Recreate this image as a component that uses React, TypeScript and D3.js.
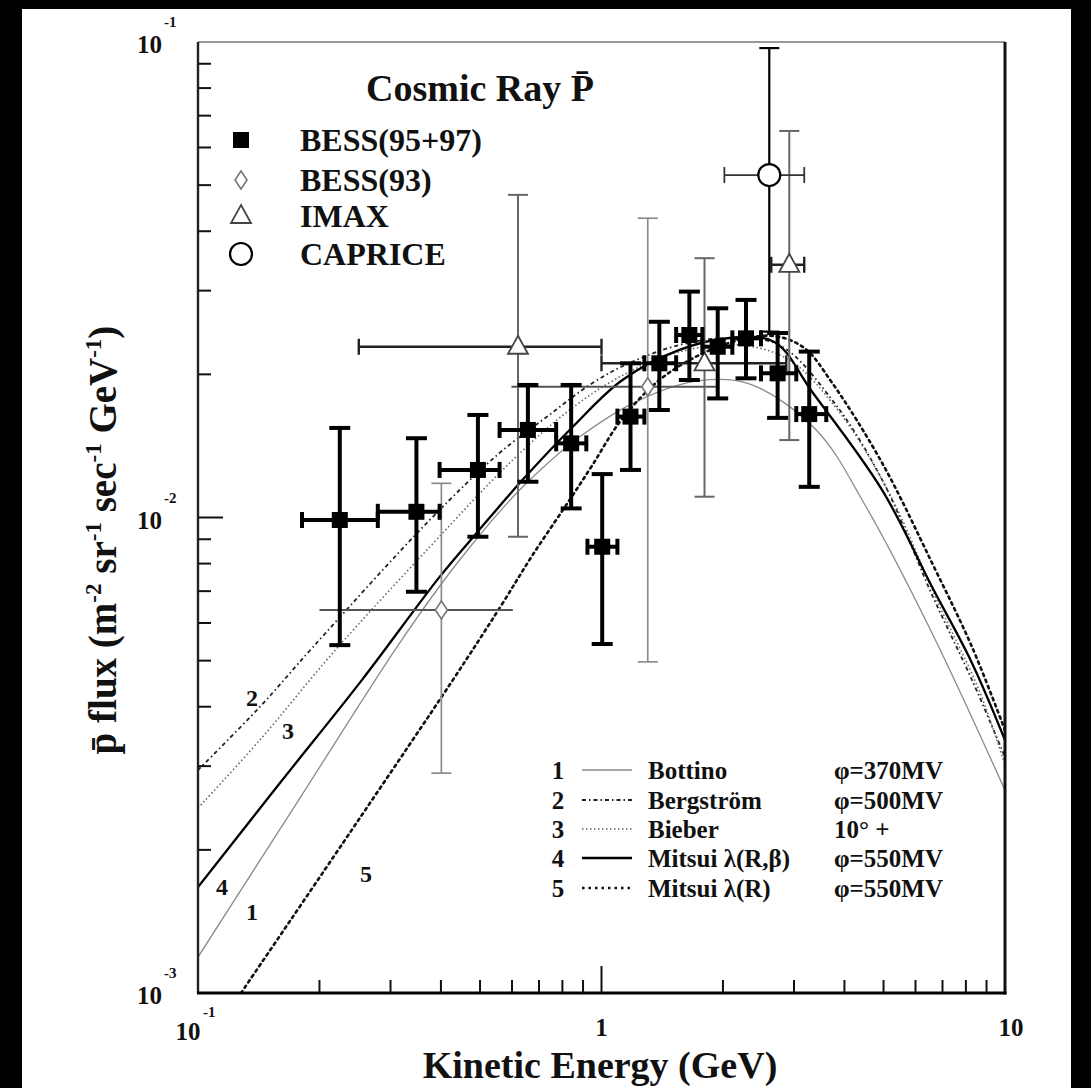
import React from "react";
import * as d3 from "d3";

const W = 1091;
const H = 1088;
const X0 = 198, X1 = 1005, Y0 = 993, Y1 = 42;
const FONT = "'Liberation Serif', 'Times New Roman', serif";

// ---- data: BESS(95+97)
const bessE = [0.2246, 0.3478, 0.494, 0.657, 0.841, 1.004, 1.18, 1.391, 1.651, 1.941, 2.281, 2.732, 3.272];
const bessFlux = [0.00988, 0.01028, 0.01259, 0.01528, 0.01432, 0.00868, 0.0163, 0.0211, 0.0242, 0.02286, 0.02381, 0.0201, 0.0165];
const bessHi = [0.01543, 0.01468, 0.01643, 0.019, 0.019, 0.01234, 0.0211, 0.0258, 0.02986, 0.02754, 0.02868, 0.02443, 0.02233];
const bessLo = [0.00539, 0.00698, 0.00911, 0.01189, 0.01045, 0.00542, 0.01259, 0.01683, 0.01946, 0.0178, 0.01962, 0.0162, 0.0116];
const bessELo = [0.181, 0.279, 0.397, 0.559, 0.772, 0.923, 1.095, 1.277, 1.531, 1.778, 2.11, 2.485, 3.039];
const bessEHi = [0.279, 0.397, 0.559, 0.772, 0.917, 1.095, 1.277, 1.531, 1.778, 2.11, 2.485, 3.039, 3.606];

// ---- BESS(93)
const b93E = [0.401, 1.302];
const b93Flux = [0.00639, 0.01884];
const b93Hi = [0.0118, 0.0426];
const b93Lo = [0.0029, 0.00497];
const b93ELo = [0.2, 0.598];
const b93EHi = [0.603, 1.94];

// ---- IMAX
const imaxE = [0.621, 1.8, 2.92];
const imaxFlux = [0.02286, 0.0211, 0.034];
const imaxHi = [0.0477, 0.0351, 0.065];
const imaxLo = [0.00911, 0.01106, 0.01455];
const imaxELo = [0.2503, 1.0, 2.635];
const imaxEHi = [1.0, 2.87, 3.18];

// ---- CAPRICE
const capE = [2.605];
const capFlux = [0.0525];
const capHi = [0.0971];
const capLo = [0.0246];
const capELo = [2.016];
const capEHi = [3.18];

// ---- model curves
const c1E = [0.1, 0.1789, 0.3199, 0.445, 0.6266, 0.882, 1.242, 1.748, 2.325, 3.405, 4.528, 6.597, 10];
const c1F = [0.00119, 0.00257, 0.00553, 0.00814, 0.01142, 0.01477, 0.01766, 0.0194, 0.0191, 0.01528, 0.01052, 0.00571, 0.00267];
const c2E = [0.1, 0.1423, 0.1927, 0.3752, 0.559, 0.731, 0.95, 1.173, 1.56, 2.074, 2.758, 3.731, 4.961, 6.597, 8.286, 10];
const c2F = [0.002944, 0.003996, 0.00534, 0.00988, 0.01367, 0.01627, 0.01918, 0.02113, 0.02306, 0.02385, 0.02306, 0.01766, 0.012, 0.00687, 0.00455, 0.003135];
const c3E = [0.1, 0.1423, 0.2159, 0.3752, 0.6022, 0.8333, 1.108, 1.56, 2.196, 2.92, 3.882, 5.163, 6.866, 8.62, 10];
const c3F = [0.002449, 0.003404, 0.00519, 0.00867, 0.01321, 0.01683, 0.01974, 0.0223, 0.02306, 0.02144, 0.01667, 0.01126, 0.006546, 0.004338, 0.003016];
const c4E = [0.1, 0.1596, 0.2547, 0.397, 0.4905, 0.6375, 0.8477, 1.127, 1.56, 2.074, 2.681, 3.329, 4.961, 6.597, 8.286, 10];
const c4F = [0.00167, 0.002764, 0.00455, 0.0075, 0.00928, 0.012, 0.0155, 0.01946, 0.02251, 0.02385, 0.0234, 0.01836, 0.01142, 0.00714, 0.00494, 0.003404];
const c5E = [0.1278, 0.2518, 0.4279, 0.559, 0.675, 0.8333, 0.95, 1.119, 1.392, 1.748, 2.196, 2.681, 3.18, 3.731, 4.961, 6.597, 8.286, 10];
const c5F = [0.001, 0.002333, 0.00455, 0.00645, 0.00834, 0.01088, 0.0129, 0.01603, 0.01946, 0.02197, 0.02362, 0.02408, 0.02273, 0.01918, 0.01302, 0.00802, 0.00534, 0.00357];

const curveNums = ["1", "2", "3", "4", "5"];
const curveNames = ["Bottino", "Bergström", "Bieber", "Mitsui λ(R,β)", "Mitsui λ(R)"];
const curvePhis = ["φ=370MV", "φ=500MV", "10° +", "φ=550MV", "φ=550MV"];
const dataLegend = ["BESS(95+97)", "BESS(93)", "IMAX", "CAPRICE"];

const curveStyles = [
  { stroke: "#8a8a8a", width: 1.3, dash: "" },
  { stroke: "#222", width: 1.8, dash: "4,3,1.5,3" },
  { stroke: "#666", width: 1.6, dash: "1.5,2.5" },
  { stroke: "#000", width: 2.3, dash: "" },
  { stroke: "#111", width: 2.6, dash: "2.5,4" },
];

type Series = {
  E: number[]; F: number[]; hi: number[]; lo: number[]; elo: number[]; ehi: number[];
  vStroke: string; vWidth: number; hStroke: string; hWidth: number; cap: number; hcap: number;
  marker: "square" | "diamond" | "triangle" | "circle";
};

function Marker({ kind, cx, cy }: { kind: string; cx: number; cy: number }) {
  if (kind === "square") return <rect x={cx - 8} y={cy - 8} width={16} height={16} fill="#000" />;
  if (kind === "diamond")
    return <path d={`M${cx},${cy - 9}L${cx + 6},${cy}L${cx},${cy + 9}L${cx - 6},${cy}Z`} fill="#fff" stroke="#777" strokeWidth={1.6} />;
  if (kind === "triangle")
    return <path d={`M${cx},${cy - 11}L${cx + 10},${cy + 7}L${cx - 10},${cy + 7}Z`} fill="#fff" stroke="#444" strokeWidth={1.8} />;
  return <circle cx={cx} cy={cy} r={11} fill="#fff" stroke="#000" strokeWidth={2.2} />;
}

export default function App() {
  const x = d3.scaleLog().domain([0.1, 10]).range([X0, X1]);
  const y = d3.scaleLog().domain([1e-3, 1e-1]).range([Y0, Y1]);
  const line = d3
    .line<[number, number]>()
    .x((d) => x(d[0]))
    .y((d) => y(d[1]))
    .curve(d3.curveCatmullRom.alpha(0.5));

  const curves = [
    [c1E, c1F], [c2E, c2F], [c3E, c3F], [c4E, c4F], [c5E, c5F],
  ].map(([e, f]) => e.map((v, i) => [v, f[i]] as [number, number]));

  const series: Series[] = [
    { E: b93E, F: b93Flux, hi: b93Hi, lo: b93Lo, elo: b93ELo, ehi: b93EHi, vStroke: "#8c8c8c", vWidth: 1.7, hStroke: "#555", hWidth: 2, cap: 20, hcap: 0, marker: "diamond" },
    { E: imaxE, F: imaxFlux, hi: imaxHi, lo: imaxLo, elo: imaxELo, ehi: imaxEHi, vStroke: "#666", vWidth: 2, hStroke: "#222", hWidth: 2.4, cap: 20, hcap: 16, marker: "triangle" },
    { E: capE, F: capFlux, hi: capHi, lo: capLo, elo: capELo, ehi: capEHi, vStroke: "#000", vWidth: 2.2, hStroke: "#333", hWidth: 1.8, cap: 20, hcap: 16, marker: "circle" },
    { E: bessE, F: bessFlux, hi: bessHi, lo: bessLo, elo: bessELo, ehi: bessEHi, vStroke: "#000", vWidth: 4, hStroke: "#000", hWidth: 4, cap: 21, hcap: 16, marker: "square" },
  ];

  const xt = x.ticks();
  const yt = y.ticks();
  const isMajor = (v: number) => Math.abs(Math.log10(v) - Math.round(Math.log10(v))) < 1e-6;

  const legendRowsY = [770, 800, 829, 858, 888];
  const dataLegendY = [140, 180, 216, 254];
  const dataLegendKinds = ["square", "diamond", "triangle", "circle"];

  return (
    <svg width={W} height={H} style={{ position: "absolute", left: 0, top: 0, display: "block" }} fontFamily={FONT} fontWeight="bold">
      <rect x={0} y={0} width={W} height={H} fill="#000" />
      <rect x={22} y={9} width={1049} height={H - 9} fill="#fff" />
      <defs>
        <clipPath id="plot">
          <rect x={X0} y={Y1} width={X1 - X0} height={Y0 - Y1} />
        </clipPath>
      </defs>

      {/* curves */}
      <g clipPath="url(#plot)" fill="none">
        {curves.map((c, i) => (
          <path key={i} d={line(c) || ""} stroke={curveStyles[i].stroke} strokeWidth={curveStyles[i].width}
            strokeDasharray={curveStyles[i].dash || undefined} strokeLinecap={i === 4 ? "round" : "butt"} />
        ))}
      </g>

      {/* error bars and markers */}
      {series.map((s, si) => (
        <g key={si}>
          {s.E.map((e, i) => {
            const cx = x(e), cy = y(s.F[i]);
            const yh = y(s.hi[i]), yl = y(s.lo[i]);
            const xl = x(s.elo[i]), xh = x(s.ehi[i]);
            return (
              <g key={i}>
                <line x1={cx} x2={cx} y1={yh} y2={yl} stroke={s.vStroke} strokeWidth={s.vWidth} />
                <line x1={cx - s.cap / 2} x2={cx + s.cap / 2} y1={yh} y2={yh} stroke={s.vStroke} strokeWidth={s.vWidth} />
                <line x1={cx - s.cap / 2} x2={cx + s.cap / 2} y1={yl} y2={yl} stroke={s.vStroke} strokeWidth={s.vWidth} />
                <line x1={xl} x2={xh} y1={cy} y2={cy} stroke={s.hStroke} strokeWidth={s.hWidth} />
                {s.hcap > 0 && (
                  <>
                    <line x1={xl} x2={xl} y1={cy - s.hcap / 2} y2={cy + s.hcap / 2} stroke={s.hStroke} strokeWidth={s.hWidth} />
                    <line x1={xh} x2={xh} y1={cy - s.hcap / 2} y2={cy + s.hcap / 2} stroke={s.hStroke} strokeWidth={s.hWidth} />
                  </>
                )}
              </g>
            );
          })}
          {s.E.map((e, i) => (
            <Marker key={"m" + i} kind={s.marker} cx={x(e)} cy={y(s.F[i])} />
          ))}
        </g>
      ))}

      {/* frame */}
      <line x1={X0} x2={X1} y1={Y1} y2={Y1} stroke="#777" strokeWidth={1.6} />
      <line x1={X0} x2={X0} y1={Y1} y2={Y0} stroke="#222" strokeWidth={2.4} />
      <line x1={X1} x2={X1} y1={Y1} y2={Y0 + 1.5} stroke="#111" strokeWidth={3} />
      <line x1={X0 - 1} x2={X1 + 1.5} y1={Y0} y2={Y0} stroke="#000" strokeWidth={3} />

      {/* ticks */}
      {xt.map((v, i) => {
        const px = x(v);
        if (px <= X0 + 1 || px >= X1 - 1) return null;
        const len = isMajor(v) ? 27 : 13;
        return <line key={"xt" + i} x1={px} x2={px} y1={Y0} y2={Y0 - len} stroke="#111" strokeWidth={2} />;
      })}
      {yt.map((v, i) => {
        const py = y(v);
        if (py <= Y1 + 1 || py >= Y0 - 1) return null;
        const len = isMajor(v) ? 25 : 13;
        return <line key={"yt" + i} x1={X0} x2={X0 + len} y1={py} y2={py} stroke="#111" strokeWidth={2} />;
      })}

      {/* tick labels */}
      <g fontSize={25} fill="#111">
        <text x={162} y={y(0.1) + 11} textAnchor="end">10</text>
        <text x={164} y={y(0.1) - 15} fontSize={15}>-1</text>
        <text x={162} y={y(0.01) + 11} textAnchor="end">10</text>
        <text x={164} y={y(0.01) - 15} fontSize={15}>-2</text>
        <text x={162} y={y(0.001) + 11} textAnchor="end">10</text>
        <text x={164} y={y(0.001) - 15} fontSize={15}>-3</text>
        <text x={x(0.1) - 10} y={1040} textAnchor="middle">10</text>
        <text x={x(0.1) + 5} y={1017} fontSize={15}>-1</text>
        <text x={x(1)} y={1036} textAnchor="middle">1</text>
        <text x={x(10) + 6} y={1036} textAnchor="middle">10</text>
      </g>

      {/* axis titles */}
      <text x={600} y={1078} textAnchor="middle" fontSize={38} fill="#111">Kinetic Energy (GeV)</text>
      <text transform="translate(116,540) rotate(-90)" textAnchor="middle" fontSize={39} fill="#111">
        {"p\u0304 flux (m"}
        <tspan dy={-15} fontSize={23}>-2</tspan>
        <tspan dy={15}>{" sr"}</tspan>
        <tspan dy={-15} fontSize={23}>-1</tspan>
        <tspan dy={15}>{" sec"}</tspan>
        <tspan dy={-15} fontSize={23}>-1</tspan>
        <tspan dy={15}>{" GeV"}</tspan>
        <tspan dy={-15} fontSize={23}>-1</tspan>
        <tspan dy={15}>)</tspan>
      </text>

      {/* title */}
      <text x={480} y={101} textAnchor="middle" fontSize={38} fill="#111">{"Cosmic Ray P\u0304"}</text>

      {/* data legend */}
      <g fontSize={32} fill="#111">
        {dataLegend.map((t, i) => (
          <g key={t}>
            <Marker kind={dataLegendKinds[i]} cx={241} cy={dataLegendY[i]} />
            <text x={300} y={dataLegendY[i] + 11}>{t}</text>
          </g>
        ))}
      </g>

      {/* curve legend */}
      <g fontSize={25} fill="#111">
        {curveNums.map((n, i) => (
          <g key={n}>
            <text x={558} y={legendRowsY[i] + 9} textAnchor="middle">{n}</text>
            <line x1={582} x2={632} y1={legendRowsY[i]} y2={legendRowsY[i]} stroke={curveStyles[i].stroke}
              strokeWidth={curveStyles[i].width} strokeDasharray={curveStyles[i].dash || undefined} />
            <text x={648} y={legendRowsY[i] + 9}>{curveNames[i]}</text>
            <text x={834} y={legendRowsY[i] + 9}>{curvePhis[i]}</text>
          </g>
        ))}
      </g>

      {/* curve labels */}
      <g fontSize={24} fill="#111" textAnchor="middle">
        <text x={252} y={706}>2</text>
        <text x={288} y={739}>3</text>
        <text x={222} y={895}>4</text>
        <text x={252} y={920}>1</text>
        <text x={366} y={882}>5</text>
      </g>
    </svg>
  );
}
